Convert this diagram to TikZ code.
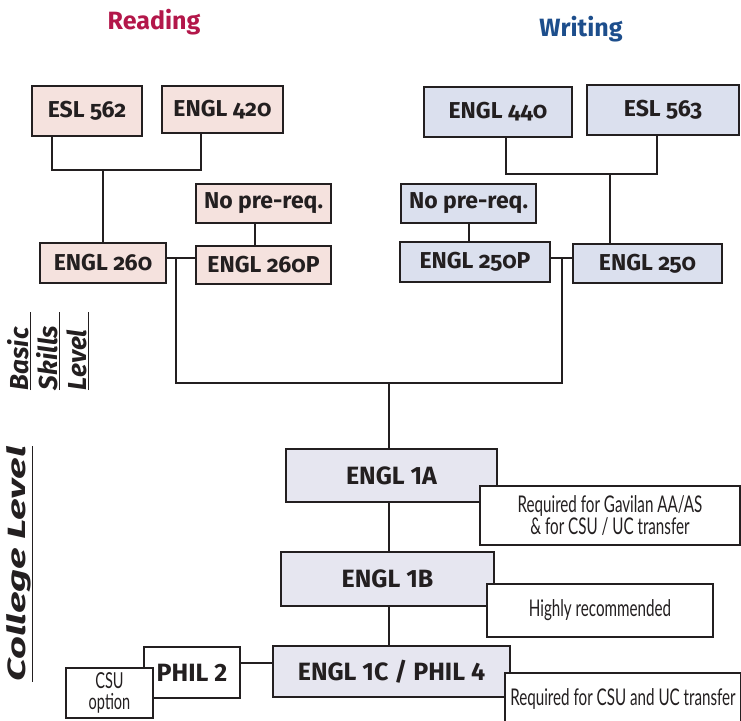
\documentclass[tikz,border=0pt]{standalone}
\usepackage{fontspec}
\setmainfont{Fira Sans}[Numbers=OldStyle]
\newfontfamily\liningfont{Fira Sans}
\newfontfamily\notefont{Lato}[FakeStretch=0.66]
\usepackage{graphicx}

\definecolor{boxline}{HTML}{231F20}
\definecolor{readfill}{HTML}{F5E2DE}
\definecolor{writefill}{HTML}{DBE0EE}
\definecolor{collfill}{HTML}{E6E6F0}
\definecolor{readred}{HTML}{B3174A}
\definecolor{writeblue}{HTML}{1D4E8C}

\begin{document}
\begin{tikzpicture}[
    x=1pt, y=-1pt,
    course/.style={draw=boxline, line width=2pt, inner sep=0pt,
        font=\bfseries\fontsize{23}{25}\selectfont, text=boxline},
    readbox/.style={course, fill=readfill},
    writebox/.style={course, fill=writefill},
    collbox/.style={course, fill=collfill,
        font=\liningfont\bfseries\fontsize{25}{27}\selectfont},
    notebox/.style={draw=boxline, line width=2pt, fill=white, inner sep=0pt,
        align=center, font=\notefont\fontsize{23}{20}\selectfont, text=boxline},
    link/.style={draw=boxline, line width=2pt},
    sidelbl/.style={rotate=90, text=boxline, inner sep=0pt}
]

    \useasboundingbox (0,0) rectangle (741,720);

    % --- 1. Titles ---
    \node[font=\bfseries\fontsize{25}{27}\selectfont, text=readred] (readtitle) at (154,22) {Reading};
    \node[font=\bfseries\fontsize{25}{27}\selectfont, text=writeblue] (writetitle) at (581,29) {Writing};

    % --- 2. Reading side ---
    \node[readbox, minimum width=110pt, minimum height=50pt] (esl562) at (87,111) {ESL 562};
    \node[readbox, minimum width=121pt, minimum height=47pt] (engl420) at (222.5,109.5) {ENGL 420};
    \node[readbox, minimum width=135pt, minimum height=39pt] (noreqr) at (263.5,203.5) {No pre-req.};
    \node[readbox, minimum width=126pt, minimum height=40pt] (engl260) at (103,263) {ENGL 260};
    \node[readbox, minimum width=135pt, minimum height=38pt] (engl260p) at (263.5,265) {ENGL 260P};

    % --- 3. Writing side ---
    \node[writebox, minimum width=148pt, minimum height=50pt] (engl440) at (498,112) {ENGL 440};
    \node[writebox, minimum width=152pt, minimum height=50pt] (esl563) at (663,110) {ESL 563};
    \node[writebox, minimum width=135pt, minimum height=39pt] (noreqw) at (468.5,203.5) {No pre-req.};
    \node[writebox, minimum width=150pt, minimum height=40pt] (engl250p) at (475,262) {ENGL 250P};
    \node[writebox, minimum width=149pt, minimum height=39pt] (engl250) at (647.5,263.5) {ENGL 250};

    % --- 4. College level ---
    \node[collbox, minimum width=211pt, minimum height=53pt] (engl1a) at (391.5,475.5) {ENGL 1A};
    \node[collbox, minimum width=213pt, minimum height=54pt] (engl1b) at (387.5,579) {ENGL 1B};
    \node[collbox, minimum width=237pt, minimum height=51pt] (engl1c) at (391.5,671.5) {ENGL 1C / PHIL 4};
    \node[course, fill=white, minimum width=96pt, minimum height=51pt,
        font=\liningfont\bfseries\fontsize{25}{27}\selectfont] (phil2) at (192,672.5) {PHIL 2};

    % notes lie over the boxes
    \node[notebox, minimum width=260pt, minimum height=59pt] (note1a) at (610,515.5)
        {Required for Gavilan AA/AS\\\& for CSU / UC transfer};
    \node[notebox, minimum width=226pt, minimum height=53pt] (note1b) at (600,610.5) {Highly recommended};
    \node[notebox, minimum width=236pt, minimum height=52pt] (note1c) at (623,699) {Required for CSU and UC transfer};
    \node[notebox, minimum width=87pt, minimum height=50pt,
        font=\notefont\fontsize{22}{21}\selectfont] (csuopt) at (109.5,693) {CSU\\option};

    % --- 5. Side labels ---
    \node[sidelbl, align=left, font=\bfseries\itshape\fontsize{26}{29}\selectfont] (basiclbl) at (48,351)
        {\underline{\makebox[78pt][l]{Basic}}\\\underline{\makebox[78pt][l]{Skills}}\\\underline{\makebox[78pt][l]{Level}}};
    \node[sidelbl, font=\bfseries\itshape\fontsize{25}{27}\selectfont] (colllbl) at (20,564)
        {\underline{\scalebox{1.6}[1]{College Level}}};

    % --- 6. Connectors ---
    \coordinate (rbar) at (103,170);
    \coordinate (wbar) at (610,174);
    \coordinate (rjoin) at (176,258);
    \coordinate (wjoin) at (562,258);
    \coordinate (basic) at (389,383);
    \coordinate (philjoin) at (256,663);

    \draw[link] ([xshift=-35pt]esl562.south) |- (rbar) -| ([xshift=-21.5pt]engl420.south);
    \draw[link] (rbar) -- (engl260.north);
    \draw[link] ([xshift=-8.5pt]noreqr.south) -- ([xshift=-8.5pt]engl260p.north);
    \draw[link] (engl260.east |- rjoin) -- (engl260p.west |- rjoin);

    \draw[link] ([xshift=8pt]engl440.south) |- (wbar) -| ([xshift=-6pt]esl563.south);
    \draw[link] (wbar) -- (wbar |- engl250.north);
    \draw[link] (noreqw.south) -- (noreqw.south |- engl250p.north);
    \draw[link] (engl250p.east |- wjoin) -- (engl250.west |- wjoin);

    \draw[link] (rjoin) |- (basic) -| (wjoin);
    \draw[link] (basic) -- (basic |- engl1a.north);
    \draw[link] (engl1a.south -| basic) -- (engl1b.north -| basic);
    \draw[link] (engl1b.south -| basic) -- (engl1c.north -| basic);
    \draw[link] (phil2.east |- philjoin) -- (engl1c.west |- philjoin);

\end{tikzpicture}
\end{document}
